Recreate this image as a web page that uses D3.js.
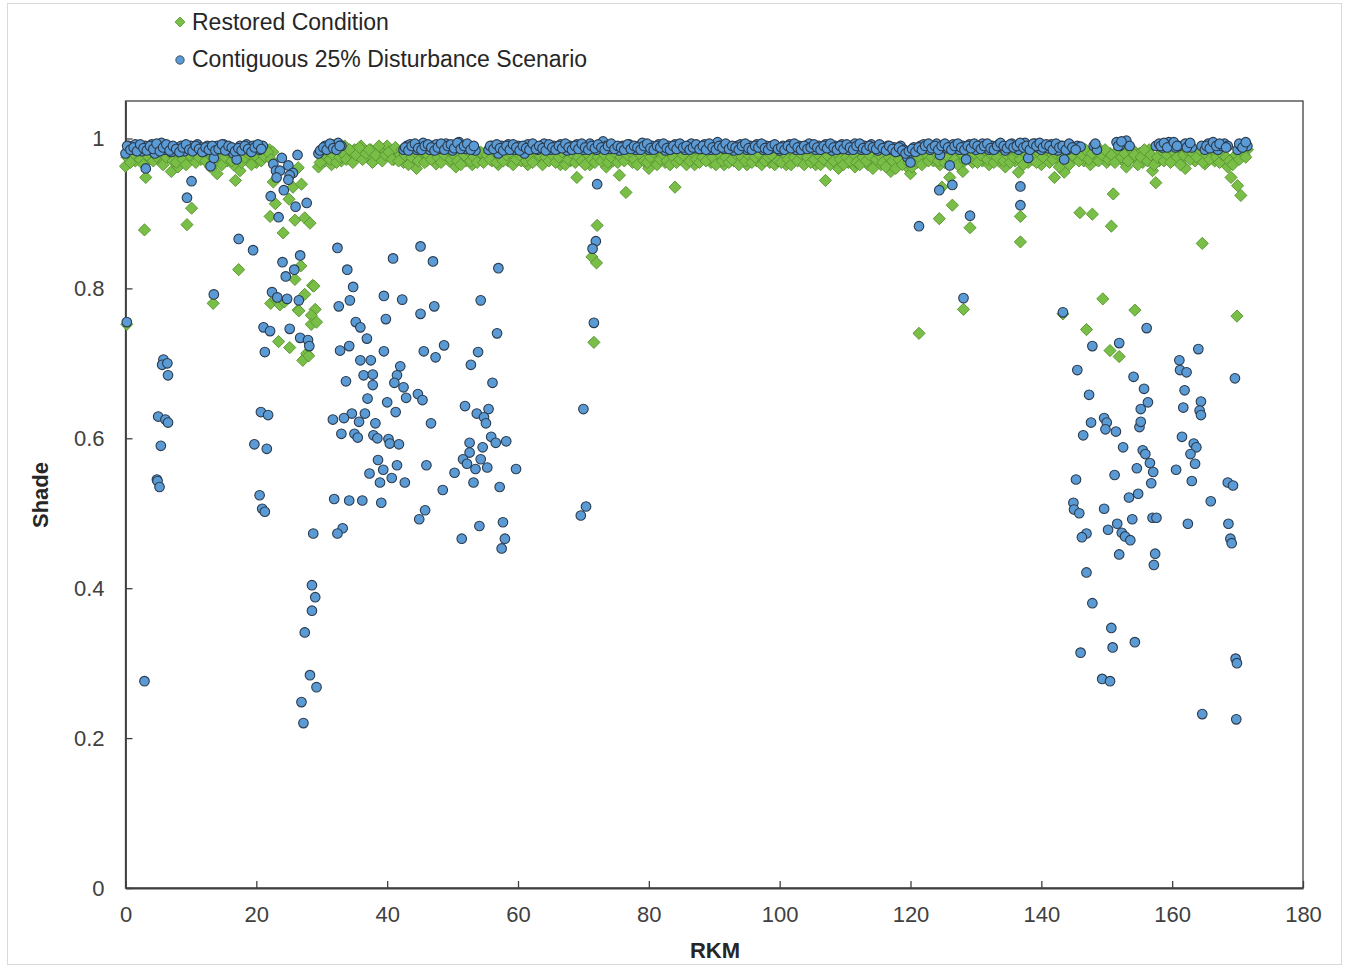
<!DOCTYPE html>
<html><head><meta charset="utf-8">
<script src="https://cdn.jsdelivr.net/npm/d3@7"></script>
<style>
body{margin:0;background:#fff;}
text{font-family:"Liberation Sans",Arial,sans-serif;}
</style>
</head><body>
<svg id="chart" width="1346" height="968"></svg>
<script>
// ---------- DATA ----------
const seriesNames = ["Restored Condition", "Contiguous 25% Disturbance Scenario"];
const xTickValues = [0,20,40,60,80,100,120,140,160,180];
const yTickValues = [0,0.2,0.4,0.6,0.8,1];
const yTickLabels = ["0","0.2","0.4","0.6","0.8","1"];

// Restored condition: stations near the top band [RKM, Shade]
const restoredBand = [
[0,.963],[.5,.975],[1,.982],[1.5,.97],[2,.985],[2.5,.978],[3,.968],[3.5,.98],[4,.975],[4.5,.985],
[5,.972],[5.5,.98],[6,.988],[6.5,.976],[7,.956],[7.5,.982],[8,.962],[8.5,.978],[9,.985],[9.5,.97],
[10,.98],[10.5,.975],[11,.986],[11.5,.972],[12,.98],[12.5,.968],[13,.962],[13.5,.978],[14,.953],[14.5,.975],
[15,.985],[15.5,.97],[16,.98],[16.5,.965],[17,.976],[17.5,.957],[18,.982],[18.5,.972],[19,.985],[19.5,.975],
[20,.968],[20.5,.98],[21,.988],[21.5,.978],[22,.985],[22.5,.982],
[29.5,.962],[30,.975],[30.5,.97],[31,.982],[31.5,.965],[32,.978],[32.5,.985],[33,.97],[33.5,.99],[34,.98],
[34.5,.975],[35,.985],[35.5,.978],[36,.99],[36.5,.982],[37,.975],[37.5,.985],[38,.97],[38.5,.98],[39,.976],
[39.5,.985],[40,.99],[40.5,.98],[41,.972],[41.5,.985],[42,.978],[42.5,.968],[43,.98],[43.5,.985],[44,.972],
[44.5,.96],[45,.978],[45.5,.982],[46,.97],[46.5,.985],[47,.975],[47.5,.966],[48,.98],[48.5,.988],[49,.976],
[49.5,.97],[50,.982],[50.5,.962],[51,.975],[51.5,.985],[52,.97],[52.5,.978],[53,.965],[53.5,.98],[54,.972],
[54.5,.98],[55,.975],[55.5,.985],[56,.97],[56.5,.98],[57,.965],[57.5,.978],[58,.985],[58.5,.97],[59,.98],
[59.5,.975],[60,.985],[60.5,.97],[61,.978],[61.5,.965],[62,.98],[62.5,.975],[63,.972],[63.5,.98],[64,.968],
[64.5,.978],[65,.985],[65.5,.972],[66,.98],[66.5,.965],[67,.975],[67.5,.982],[68,.97],[68.5,.978],[69,.948],
[69.5,.975],[70,.982],[70.5,.97],[71,.965],[71.5,.978],[72,.972],[72.5,.985],[73,.975],[73.5,.962],[74,.98],
[74.5,.97],[75,.978],[75.5,.951],[76,.985],[76.5,.928],[77,.975],[77.5,.968],[78,.98],[78.5,.972],[79,.985],
[79.5,.975],[80,.96],[80.5,.978],[81,.97],[81.5,.982],[82,.975],[82.5,.968],[83,.98],[83.5,.972],[84,.935],
[84.5,.978],[85,.985],[85.5,.97],[86,.98],[86.5,.975],[87,.965],[87.5,.978],[88,.972],[88.5,.985],[89,.975],
[89.5,.968],[90,.98],[90.5,.972],[91,.978],[91.5,.965],[92,.975],[92.5,.985],[93,.97],[93.5,.978],[94,.972],
[94.5,.98],[95,.965],[95.5,.975],[96,.982],[96.5,.97],[97,.978],[97.5,.972],[98,.985],[98.5,.968],[99,.978],
[99.5,.972],[100,.98],[100.5,.975],[101,.965],[101.5,.978],[102,.97],[102.5,.982],[103,.975],[103.5,.968],[104,.98],
[104.5,.972],[105,.978],[105.5,.965],[106,.975],[106.5,.982],[107,.944],[107.5,.97],[108,.978],[108.5,.972],[109,.96],
[109.5,.975],[110,.98],[110.5,.968],[111,.975],[111.5,.962],[112,.978],[112.5,.97],[113,.98],[113.5,.965],[114,.975],
[114.5,.982],[115,.97],[115.5,.965],[116,.978],[116.5,.972],[117,.956],[117.5,.975],[118,.968],[118.5,.98],[119,.972],
[119.5,.962],[120,.953],[120.5,.975],[121,.968],[121.5,.98],[122,.972],[122.5,.978],[123,.985],[123.5,.97],[124,.978],
[124.5,.965],[125,.975],[125.5,.982],[126,.948],[126.5,.97],[127,.978],[127.5,.972],[128,.956],[128.5,.975],[129,.98],
[129.5,.968],[130,.975],[130.5,.985],[131,.97],[131.5,.978],[132,.965],[132.5,.975],[133,.982],[133.5,.97],[134,.978],
[134.5,.962],[135,.975],[135.5,.985],[136,.97],[136.5,.955],[137,.975],[137.5,.982],[138,.968],[138.5,.978],[139,.985],
[139.5,.97],[140,.965],[140.5,.978],[141,.972],[141.5,.98],[142,.948],[142.5,.975],[143,.968],[143.5,.955],[144,.978],
[144.5,.97],[145,.982],[145.5,.975],[146,.985],[146.5,.97],[147,.978],[147.5,.965],[148,.98],[148.5,.972],[149,.985],
[149.5,.975],[150,.968],[150.5,.98],[151,.972],[151.5,.978],[152,.985],[152.5,.97],[153,.962],[153.5,.978],[154,.985],
[154.5,.972],[155,.98],[155.5,.968],[156,.975],[156.5,.985],[157,.957],[157.5,.941],[158,.97],[158.5,.982],[159,.975],
[159.5,.985],[160,.97],[160.5,.978],[161,.985],[161.5,.972],[162,.96],[162.5,.978],[163,.985],[163.5,.97],[164,.98],
[164.5,.972],[165,.966],[165.5,.985],[166,.978],[166.5,.97],[167,.98],[167.5,.975],[168,.985],[168.5,.962],[169,.948],
[169.5,.975],[170,.937],[170.5,.924],[171,.978],[171.5,.985]
];
// Restored condition: intermediate stations near the top band
const restoredBand2 = [
[.25,.975],[.75,.968],[1.25,.98],[1.75,.985],[2.25,.972],[2.75,.965],[3.25,.978],[3.75,.985],[4.25,.97],[4.75,.976],
[5.25,.982],[5.75,.965],[6.25,.975],[6.75,.982],[7.25,.97],[7.75,.968],[8.25,.98],[8.75,.972],[9.25,.965],[9.75,.978],
[10.25,.985],[10.75,.968],[11.25,.975],[11.75,.982],[12.25,.97],[12.75,.985],[13.25,.975],[13.75,.968],[14.25,.98],[14.75,.965],
[15.25,.975],[15.75,.982],[16.25,.97],[16.75,.978],[17.25,.985],[17.75,.968],[18.25,.975],[18.75,.98],[19.25,.965],[19.75,.978],
[20.25,.985],[20.75,.97],[21.25,.976],[21.75,.982],[22.25,.972],
[29.75,.968],[30.25,.98],[30.75,.985],[31.25,.972],[31.75,.978],[32.25,.968],[32.75,.975],[33.25,.98],[33.75,.972],[34.25,.985],
[34.75,.968],[35.25,.978],[35.75,.988],[36.25,.972],[36.75,.98],[37.25,.985],[37.75,.968],[38.25,.978],[38.75,.99],[39.25,.97],
[39.75,.978],[40.25,.982],[40.75,.972],[41.25,.988],[41.75,.97],[42.25,.985],[42.75,.978],[43.25,.965],[43.75,.975],[44.25,.982],
[44.75,.97],[45.25,.985],[45.75,.968],[46.25,.978],[46.75,.972],[47.25,.982],[47.75,.975],[48.25,.968],[48.75,.978],[49.25,.985],
[49.75,.972],[50.25,.978],[50.75,.97],[51.25,.965],[51.75,.978],[52.25,.985],[52.75,.97],[53.25,.975],[53.75,.968],[54.25,.982],
[54.75,.968],[55.25,.978],[55.75,.972],[56.25,.985],[56.75,.968],[57.25,.975],[57.75,.97],[58.25,.978],[58.75,.982],[59.25,.965],
[59.75,.972],[60.25,.978],[60.75,.982],[61.25,.97],[61.75,.975],[62.25,.968],[62.75,.982],[63.25,.978],[63.75,.965],[64.25,.975],
[64.75,.97],[65.25,.978],[65.75,.968],[66.25,.975],[66.75,.982],[67.25,.965],[67.75,.972],[68.25,.98],[68.75,.968],[69.25,.975],
[69.75,.97],[70.25,.965],[70.75,.978],[71.25,.972],[71.75,.968],[72.25,.975],[72.75,.97],[73.25,.978],[73.75,.968],[74.25,.975],
[74.75,.982],[75.25,.968],[75.75,.975],[76.25,.97],[76.75,.978],[77.25,.982],[77.75,.972],[78.25,.965],[78.75,.978],[79.25,.97],
[79.75,.968],[80.25,.975],[80.75,.982],[81.25,.965],[81.75,.972],[82.25,.978],[82.75,.97],[83.25,.965],[83.75,.975],[84.25,.968],
[84.75,.972],[85.25,.978],[85.75,.965],[86.25,.97],[86.75,.98],[87.25,.972],[87.75,.968],[88.25,.975],[88.75,.97],[89.25,.982],
[89.75,.975],[90.25,.965],[90.75,.98],[91.25,.97],[91.75,.975],[92.25,.968],[92.75,.972],[93.25,.98],[93.75,.965],[94.25,.975],
[94.75,.97],[95.25,.978],[95.75,.968],[96.25,.975],[96.75,.98],[97.25,.965],[97.75,.97],[98.25,.975],[98.75,.978],[99.25,.965],
[99.75,.97],[100.25,.968],[100.75,.98],[101.25,.972],[101.75,.965],[102.25,.975],[102.75,.97],[103.25,.98],[103.75,.965],[104.25,.975],
[104.75,.968],[105.25,.972],[105.75,.98],[106.25,.965],[106.75,.972],[107.25,.978],[107.75,.965],[108.25,.97],[108.75,.98],[109.25,.972],
[109.75,.965],[110.25,.975],[110.75,.97],[111.25,.98],[111.75,.968],[112.25,.965],[112.75,.975],[113.25,.97],[113.75,.978],[114.25,.96],
[114.75,.972],[115.25,.978],[115.75,.968],[116.25,.962],[116.75,.975],[117.25,.97],[117.75,.96],[118.25,.972],[118.75,.965],[119.25,.978],
[119.75,.968],[120.25,.962],[120.75,.97],[121.25,.975],[121.75,.965],[122.25,.98],[122.75,.97],[123.25,.975],[123.75,.982],[124.25,.97],
[124.75,.978],[125.25,.968],[125.75,.975],[126.25,.985],[126.75,.972],[127.25,.965],[127.75,.98],[128.25,.97],[128.75,.985],[129.25,.975],
[129.75,.98],[130.25,.968],[130.75,.978],[131.25,.985],[131.75,.972],[132.25,.98],[132.75,.968],[133.25,.975],[133.75,.985],[134.25,.97],
[134.75,.978],[135.25,.968],[135.75,.975],[136.25,.982],[136.75,.972],[137.25,.965],[137.75,.978],[138.25,.985],[138.75,.972],[139.25,.968],
[139.75,.98],[140.25,.975],[140.75,.985],[141.25,.968],[141.75,.972],[142.25,.98],[142.75,.962],[143.25,.975],[143.75,.982],[144.25,.965],
[144.75,.978],[145.25,.985],[145.75,.97],[146.25,.978],[146.75,.985],[147.25,.972],[147.75,.98],[148.25,.988],[148.75,.97],[149.25,.978],
[149.75,.985],[150.25,.972],[150.75,.978],[151.25,.968],[151.75,.985],[152.25,.975],[152.75,.98],[153.25,.97],[153.75,.985],[154.25,.978],
[154.75,.965],[155.25,.975],[155.75,.985],[156.25,.97],[156.75,.978],[157.25,.965],[157.75,.975],[158.25,.985],[158.75,.97],[159.25,.978],
[159.75,.968],[160.25,.982],[160.75,.975],[161.25,.965],[161.75,.978],[162.25,.985],[162.75,.972],[163.25,.98],[163.75,.975],[164.25,.985],
[164.75,.968],[165.25,.978],[165.75,.972],[166.25,.985],[166.75,.975],[167.25,.968],[167.75,.978],[168.25,.975],[168.75,.97],[169.25,.965],
[169.75,.978],[170.25,.972],[170.75,.982],[171.25,.975]
];
// Restored condition: lower stations
const restoredLow = [
[0.2,.752],[2.9,.878],[3.1,.948],[9.4,.885],[10.1,.907],[13.4,.78],[16.8,.944],[17.3,.825],
[22.6,.942],[22.9,.913],[22.1,.896],[24.1,.874],[25.0,.919],[25.6,.935],[26.4,.961],[26.9,.939],[25.9,.891],
[27.4,.894],[28.2,.887],[26.8,.83],[25.9,.812],[28.6,.804],[22.2,.78],[23.0,.785],[23.6,.778],[24.3,.782],
[26.4,.771],[27.4,.792],[28.8,.803],[26.5,.77],[29.0,.772],[28.4,.764],[28.4,.752],[29.2,.755],[23.4,.729],
[25.1,.721],[27.1,.704],[27.7,.713],[28.0,.71],
[72.1,.884],[71.3,.842],[72.0,.834],[71.6,.728],
[124.8,.935],[126.4,.911],[124.4,.893],[129.1,.881],[136.8,.896],[136.8,.862],[128.1,.772],[121.3,.74],
[145.9,.901],[147.8,.899],[151.0,.926],[150.7,.883],[164.6,.86],[149.4,.786],[154.3,.771],[169.9,.763],
[143.3,.766],[146.9,.745],[150.5,.717],[151.9,.709]
];

// Disturbance scenario: stations near the top band
const disturbedBand = [
[0,.98],[.5,.99],[1,.985],[1.5,.992],[2,.988],[2.5,.983],[3,.99],[3.5,.986],[4,.992],[4.5,.98],
[5,.988],[5.5,.994],[6,.985],[6.5,.99],[7,.982],[7.5,.988],[8,.985],[8.5,.99],[9,.983],[9.5,.987],
[10,.99],[10.5,.985],[11,.992],[11.5,.988],[12,.983],[12.5,.99],[13,.963],[13.5,.974],[14,.99],[14.5,.986],
[15,.992],[15.5,.988],[16,.984],[16.5,.98],[17,.972],[17.5,.99],[18,.986],[18.5,.992],[19,.984],[19.5,.99],
[20,.988],[20.5,.985],[21,.99],
[29.5,.98],[30,.985],[30.5,.99],[31,.988],[31.5,.992],[32,.99],[32.5,.994],[33,.99],
[42.5,.985],[43,.99],[43.5,.992],[44,.988],[44.5,.985],[45,.99],[45.5,.994],[46,.988],[46.5,.985],[47,.99],
[47.5,.992],[48,.986],[48.5,.99],[49,.993],[49.5,.988],[50,.984],[50.5,.99],[51,.995],[51.5,.99],[52,.986],
[52.5,.99],[53,.988],[53.5,.984],
[55.5,.985],[56,.99],[56.5,.988],[57,.98],[57.5,.99],[58,.986],[58.5,.992],[59,.988],[59.5,.985],[60,.99],
[60.5,.986],[61,.98],[61.5,.992],[62,.988],[62.5,.99],[63,.985],[63.5,.99],[64,.993],[64.5,.988],[65,.985],
[65.5,.99],[66,.986],[66.5,.992],[67,.988],[67.5,.984],[68,.99],[68.5,.987],[69,.992],[69.5,.988],[70,.985],
[70.5,.99],[71,.993],[71.5,.988],[72,.985],[72.5,.99],[73,.996],[73.5,.99],[74,.986],[74.5,.99],[75,.988],
[75.5,.984],[76,.99],[76.5,.987],[77,.992],[77.5,.988],[78,.985],[78.5,.99],[79,.994],[79.5,.988],[80,.985],
[80.5,.99],[81,.987],[81.5,.992],[82,.988],[82.5,.984],[83,.99],[83.5,.986],[84,.992],[84.5,.988],[85,.99],
[85.5,.985],[86,.99],[86.5,.993],[87,.987],[87.5,.99],[88,.986],[88.5,.992],[89,.988],[89.5,.985],[90,.99],
[90.5,.995],[91,.99],[91.5,.986],[92,.99],[92.5,.988],[93,.984],[93.5,.99],[94,.992],[94.5,.988],[95,.985],
[95.5,.99],[96,.987],[96.5,.992],[97,.988],[97.5,.985],[98,.99],[98.5,.986],[99,.99],[99.5,.988],[100,.984],
[100.5,.99],[101,.987],[101.5,.992],[102,.988],[102.5,.985],[103,.99],[103.5,.986],[104,.99],[104.5,.993],[105,.988],
[105.5,.985],[106,.99],[106.5,.987],[107,.992],[107.5,.988],[108,.984],[108.5,.99],[109,.986],[109.5,.992],[110,.988],
[110.5,.985],[111,.99],[111.5,.993],[112,.988],[112.5,.985],[113,.99],[113.5,.987],[114,.992],[114.5,.988],[115,.984],
[115.5,.99],[116,.986],[116.5,.99],[117,.985],[117.5,.988],[118,.983],[118.5,.99],[119,.985],[119.5,.975],[120,.968],
[120.5,.988],[121,.984],[121.5,.99],[122,.992],[122.5,.988],[123,.985],[123.5,.99],[124,.993],[124.5,.978],[125,.99],
[125.5,.987],[126,.964],[126.5,.992],[127,.988],[127.5,.985],[128,.99],[128.5,.972],[129,.992],[129.5,.988],[130,.985],
[130.5,.99],[131,.993],[131.5,.988],[132,.985],[132.5,.99],[133,.987],[133.5,.992],[134,.988],[134.5,.984],[135,.99],
[135.5,.993],[136,.988],[136.5,.985],[137,.99],[137.5,.994],[138,.974],[138.5,.99],[139,.993],[139.5,.988],[140,.985],
[140.5,.99],[141,.987],[141.5,.992],[142,.988],[142.5,.984],[143,.99],[143.5,.972],[144,.985],[144.5,.99],[145,.988],
[145.5,.99],[146,.989],[148,.99],[148.5,.985],[151.5,.995],[152,.99],[153,.997],[153.5,.99],
[157.5,.99],[158,.993],[158.5,.988],[159,.99],[159.5,.995],[160,.992],[160.5,.988],[161,.99],[162,.993],[162.5,.99],
[163,.988],[164.5,.99],[165,.985],[165.5,.993],[166,.99],[166.5,.988],[167,.985],[167.5,.99],[168,.993],[168.5,.99],
[170,.985],[170.5,.99],[171,.993],[171.5,.99]
];
// Disturbance scenario: intermediate stations near the top band
const disturbedBand2 = [
[.25,.99],[.75,.985],[1.25,.988],[1.75,.983],[2.25,.992],[2.75,.987],[3.25,.984],[3.75,.99],[4.25,.986],[4.75,.993],
[5.25,.983],[5.75,.988],[6.25,.992],[6.75,.984],[7.25,.99],[7.75,.986],[8.25,.982],[8.75,.988],[9.25,.992],[9.75,.985],
[10.25,.983],[10.75,.99],[11.25,.986],[11.75,.982],[12.25,.988],[12.75,.985],[13.25,.99],[13.75,.984],[14.25,.986],[14.75,.992],
[15.25,.984],[15.75,.99],[16.25,.988],[16.75,.983],[17.25,.987],[17.75,.984],[18.25,.99],[18.75,.986],[19.25,.982],[19.75,.988],
[20.25,.992],[20.75,.986],
[29.75,.984],[30.25,.988],[30.75,.985],[31.25,.993],[31.75,.987],[32.25,.985],[32.75,.99],
[42.75,.988],[43.25,.984],[43.75,.99],[44.25,.993],[44.75,.987],[45.25,.985],[45.75,.99],[46.25,.992],[46.75,.988],[47.25,.984],
[47.75,.988],[48.25,.993],[48.75,.985],[49.25,.99],[49.75,.992],[50.25,.987],[50.75,.994],[51.25,.986],[51.75,.99],[52.25,.993],
[52.75,.985],[53.25,.99],
[55.75,.99],[56.25,.986],[56.75,.992],[57.25,.987],[57.75,.984],[58.25,.99],[58.75,.985],[59.25,.992],[59.75,.988],[60.25,.984],
[60.75,.99],[61.25,.987],[61.75,.985],[62.25,.993],[62.75,.986],[63.25,.99],[63.75,.987],[64.25,.984],[64.75,.992],[65.25,.988],
[65.75,.985],[66.25,.99],[66.75,.987],[67.25,.993],[67.75,.988],[68.25,.985],[68.75,.99],[69.25,.986],[69.75,.993],[70.25,.988],
[70.75,.985],[71.25,.99],[71.75,.987],[72.25,.992],[72.75,.988],[73.25,.985],[73.75,.99],[74.25,.993],[74.75,.986],[75.25,.99],
[75.75,.988],[76.25,.985],[76.75,.992],[77.25,.986],[77.75,.99],[78.25,.988],[78.75,.985],[79.25,.99],[79.75,.993],[80.25,.987],
[80.75,.985],[81.25,.99],[81.75,.988],[82.25,.993],[82.75,.987],[83.25,.985],[83.75,.99],[84.25,.986],[84.75,.993],[85.25,.988],
[85.75,.99],[86.25,.985],[86.75,.988],[87.25,.992],[87.75,.986],[88.25,.99],[88.75,.985],[89.25,.993],[89.75,.988],[90.25,.985],
[90.75,.99],[91.25,.988],[91.75,.993],[92.25,.986],[92.75,.99],[93.25,.988],[93.75,.985],[94.25,.99],[94.75,.993],[95.25,.987],
[95.75,.985],[96.25,.99],[96.75,.988],[97.25,.993],[97.75,.987],[98.25,.985],[98.75,.99],[99.25,.992],[99.75,.986],[100.25,.988],
[100.75,.985],[101.25,.99],[101.75,.987],[102.25,.993],[102.75,.988],[103.25,.985],[103.75,.99],[104.25,.986],[104.75,.988],[105.25,.992],
[105.75,.988],[106.25,.985],[106.75,.99],[107.25,.987],[107.75,.993],[108.25,.988],[108.75,.985],[109.25,.99],[109.75,.986],[110.25,.992],
[110.75,.988],[111.25,.985],[111.75,.99],[112.25,.993],[112.75,.987],[113.25,.985],[113.75,.99],[114.25,.988],[114.75,.986],[115.25,.992],
[115.75,.987],[116.25,.984],[116.75,.99],[117.25,.986],[117.75,.982],[118.25,.988],[118.75,.984],[119.25,.98],[119.75,.983],[120.25,.986],
[120.75,.982],[121.25,.988],[121.75,.985],[122.25,.99],[122.75,.993],[123.25,.987],[123.75,.99],[124.25,.985],[124.75,.99],[125.25,.993],
[125.75,.988],[126.25,.985],[126.75,.99],[127.25,.993],[127.75,.988],[128.25,.985],[128.75,.99],[129.25,.987],[129.75,.993],[130.25,.99],
[130.75,.986],[131.25,.99],[131.75,.993],[132.25,.987],[132.75,.985],[133.25,.99],[133.75,.994],[134.25,.99],[134.75,.987],[135.25,.992],
[135.75,.988],[136.25,.99],[136.75,.994],[137.25,.988],[137.75,.99],[138.25,.985],[138.75,.993],[139.25,.99],[139.75,.994],[140.25,.988],
[140.75,.992],[141.25,.99],[141.75,.985],[142.25,.993],[142.75,.988],[143.25,.99],[143.75,.985],[144.25,.993],[144.75,.988],[145.25,.985],
[148.25,.993],[151.75,.99],[152.25,.996],[158.25,.99],[158.75,.994],[159.25,.988],[160.25,.995],[160.75,.99],[162.25,.988],[162.75,.994],
[165.25,.99],[165.75,.987],[166.25,.995],[166.75,.99],[167.25,.993],[168.25,.988],[170.25,.993],[170.75,.988],[171.25,.995]
];
// Disturbance scenario: lower stations
const disturbedLow = [
[3.1,.96],[10.1,.943],[9.4,.921],[17.3,.866],[19.5,.851],[13.5,.792],[0.2,.755],[5.8,.705],[5.6,.698],[6.4,.70],
[6.5,.684],[5.0,.629],[6.1,.625],[6.5,.621],[5.4,.59],[4.8,.545],[4.9,.543],[5.2,.535],[2.9,.276],
[22.6,.966],[23.9,.974],[26.3,.978],[23.0,.957],[24.9,.964],[23.6,.957],[23.1,.948],[25.6,.954],[25.1,.951],[24.9,.945],
[24.2,.931],[22.2,.923],[27.7,.914],[26.0,.909],[23.4,.895],[26.7,.844],[24.0,.835],[25.8,.825],[24.5,.816],[22.4,.795],
[23.2,.788],[24.7,.786],[26.5,.784],[21.1,.748],[22.1,.743],[25.1,.746],[21.3,.715],[26.7,.734],[27.9,.731],[28.1,.723],
[20.7,.635],[21.8,.631],[19.7,.592],[21.6,.586],[20.5,.524],[20.9,.506],[21.3,.502],[28.5,.404],[29.0,.388],[28.5,.37],
[27.4,.341],[28.2,.284],[29.2,.268],[26.9,.248],[27.2,.22],
[32.4,.854],[45.1,.856],[40.9,.84],[47.0,.836],[57.0,.827],[33.9,.825],[34.8,.802],[34.3,.784],[32.6,.776],[39.5,.79],
[42.3,.785],[39.8,.759],[45.1,.766],[47.2,.776],[54.3,.784],[35.2,.755],[35.9,.748],[36.9,.733],[32.8,.717],[34.2,.723],
[39.5,.716],[45.6,.716],[47.4,.708],[48.7,.724],[53.9,.715],[56.8,.74],[35.9,.704],[37.5,.704],[42.0,.696],[52.8,.698],
[36.4,.684],[37.8,.685],[41.5,.684],[33.7,.676],[37.8,.671],[41.1,.674],[42.5,.668],[56.1,.674],[42.9,.654],[44.7,.659],
[45.4,.651],[37.0,.653],[40.0,.648],[51.9,.643],[53.7,.633],[55.5,.639],[54.8,.628],[55.1,.62],[41.3,.635],[34.6,.633],
[36.6,.633],[31.7,.625],[33.4,.627],[35.7,.622],[38.2,.62],[46.7,.62],[33.0,.606],[35.0,.606],[35.5,.601],[37.9,.604],
[38.5,.60],[40.2,.599],[40.4,.593],[41.8,.592],[55.9,.602],[56.6,.594],[58.2,.596],[52.6,.594],[54.6,.588],[52.6,.581],
[51.6,.572],[52.2,.566],[54.3,.572],[53.5,.559],[55.3,.561],[59.7,.559],[50.3,.554],[46.0,.564],[41.5,.564],[38.6,.571],
[39.4,.558],[37.3,.553],[40.7,.547],[38.9,.541],[42.7,.541],[53.2,.541],[57.2,.535],[48.5,.531],[31.9,.519],[34.2,.517],
[36.2,.517],[39.1,.514],[45.8,.504],[44.9,.492],[54.1,.483],[57.7,.488],[33.2,.48],[32.4,.473],[28.7,.473],[51.4,.466],
[58.0,.466],[57.5,.453],
[72.1,.939],[71.9,.863],[71.4,.853],[71.6,.754],[70.0,.639],[70.4,.509],[69.6,.497],
[124.4,.931],[126.4,.938],[129.1,.897],[121.3,.883],[136.8,.936],[136.8,.911],[128.1,.787],
[143.3,.768],[156.1,.747],[147.8,.723],[151.9,.727],[164.0,.719],[145.5,.691],[154.1,.682],[161.1,.704],[161.2,.691],[162.2,.688],
[169.6,.68],[155.7,.666],[147.3,.658],[156.3,.648],[155.2,.639],[161.9,.664],[161.7,.641],[164.4,.649],[164.2,.637],[164.4,.631],
[147.6,.621],[149.6,.627],[150.0,.621],[151.4,.609],[155.0,.615],[155.2,.622],[146.4,.604],[149.8,.612],[161.5,.602],[152.5,.588],
[155.5,.584],[155.9,.579],[156.6,.567],[157.1,.555],[154.6,.56],[163.3,.593],[163.7,.588],[162.8,.579],[163.5,.566],[160.6,.558],
[145.3,.545],[151.2,.551],[156.8,.54],[163.0,.543],[168.5,.541],[169.3,.537],[165.9,.516],[154.8,.526],[153.4,.521],[144.9,.514],
[145.0,.505],[145.8,.50],[149.6,.506],[153.9,.492],[157.0,.494],[157.6,.494],[162.4,.486],[168.6,.486],[151.6,.486],[150.2,.478],
[152.3,.474],[152.8,.469],[153.6,.464],[146.9,.473],[146.2,.468],[168.9,.466],[169.1,.46],[151.9,.445],[157.4,.446],[157.2,.431],
[146.9,.421],[147.8,.38],[150.7,.347],[150.9,.321],[154.3,.328],[146.0,.314],[169.7,.306],[169.9,.30],[149.3,.279],[150.5,.276],
[164.6,.232],[169.8,.225]
];

// ---------- CHART ----------
const svg = d3.select("#chart");
const plot = {left:125.5, right:1303, top:101, bottom:888};

svg.append("rect").attr("x",7.5).attr("y",3.5).attr("width",1334).attr("height",961)
  .attr("fill","#fff").attr("stroke","#d9d9d9").attr("stroke-width",1);

const x = d3.scaleLinear().domain([0,180]).range([plot.left, plot.right]);
const y = d3.scaleLinear().domain([0,1.05]).range([plot.bottom, plot.top]);

svg.append("rect").attr("x",plot.left).attr("y",plot.top)
  .attr("width",plot.right-plot.left).attr("height",plot.bottom-plot.top)
  .attr("fill","none").attr("stroke","#404040").attr("stroke-width",1.3);

const xAxis = svg.append("g").attr("transform",`translate(0,${plot.bottom})`)
  .call(d3.axisBottom(x).tickValues(xTickValues).tickSize(-7).tickSizeOuter(0).tickPadding(18).tickFormat(d3.format("d")));
const yAxis = svg.append("g").attr("transform",`translate(${plot.left},0)`)
  .call(d3.axisLeft(y).tickValues(yTickValues).tickSize(-7).tickSizeOuter(0).tickPadding(21)
    .tickFormat((d,i)=>yTickLabels[i]));
[xAxis,yAxis].forEach(g=>{
  g.select(".domain").attr("stroke","#404040").attr("stroke-width",1.8);
  g.selectAll(".tick line").attr("stroke","#404040").attr("stroke-width",1.3);
  g.selectAll(".tick text").attr("fill","#404040").style("font-size","22px")
    .style("font-family","'Liberation Sans',Arial,sans-serif");
});

svg.append("text").attr("x",715).attr("y",958).attr("text-anchor","middle")
  .style("font-size","22px").style("font-weight","bold").attr("fill","#262626").text("RKM");
svg.append("text").attr("transform","translate(48,495) rotate(-90)").attr("text-anchor","middle")
  .style("font-size","22px").style("font-weight","bold").attr("fill","#262626").text("Shade");

const greenFill = "#79bf47", greenStroke = "#5a9532";
const blueFill = "#5b9bd5", blueStroke = "#2b3b4e";
const diamond = d3.symbol().type(d3.symbolSquare).size(74);

const restored = restoredBand.concat(restoredBand2, restoredLow);
const disturbed = disturbedBand.concat(disturbedBand2, disturbedLow);

svg.append("g").selectAll("path").data(restored).join("path")
  .attr("d", diamond)
  .attr("transform", d=>`translate(${x(d[0])},${y(d[1])}) rotate(45)`)
  .attr("fill", greenFill).attr("stroke", greenStroke).attr("stroke-width",0.9);

svg.append("g").selectAll("circle").data(disturbed).join("circle")
  .attr("cx", d=>x(d[0])).attr("cy", d=>y(d[1])).attr("r",4.8)
  .attr("fill", blueFill).attr("stroke", blueStroke).attr("stroke-width",1.1);

// legend
const legend = svg.append("g");
legend.append("path").attr("d", d3.symbol().type(d3.symbolSquare).size(50))
  .attr("transform","translate(180,22) rotate(45)")
  .attr("fill",greenFill).attr("stroke",greenStroke).attr("stroke-width",0.8);
legend.append("circle").attr("cx",180).attr("cy",60).attr("r",4.2)
  .attr("fill",blueFill).attr("stroke",blueStroke).attr("stroke-width",0.8);
legend.append("text").attr("x",192).attr("y",30).style("font-size","23px").attr("fill","#262626").text(seriesNames[0]);
legend.append("text").attr("x",192).attr("y",67).style("font-size","23px").attr("fill","#262626").text(seriesNames[1]);
</script>
</body></html>
